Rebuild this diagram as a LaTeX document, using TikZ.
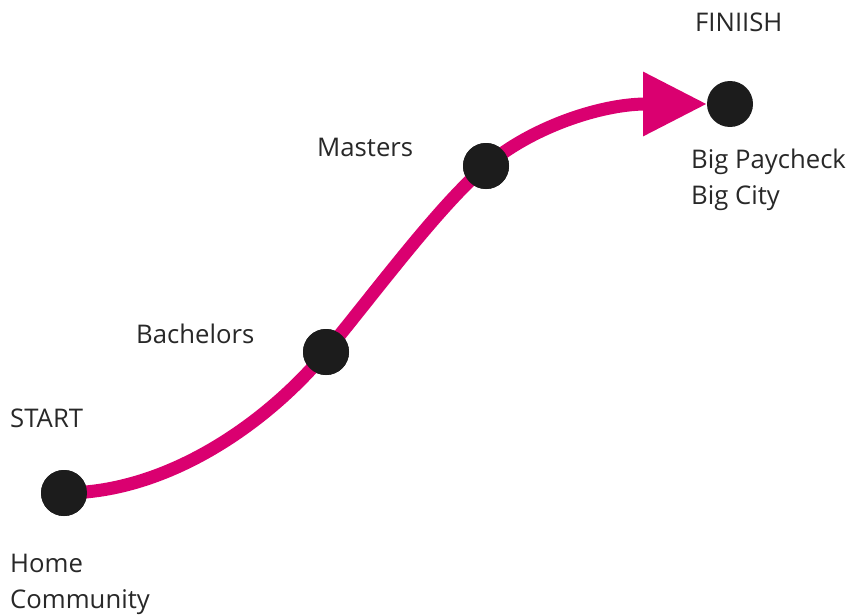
\documentclass[tikz,border=0pt]{standalone}
\usepackage{fontspec}
\setmainfont{Open Sans}
\usetikzlibrary{arrows.meta}
\definecolor{pathpink}{RGB}{218,0,112}
\definecolor{dotblack}{RGB}{28,28,28}
\definecolor{txt}{RGB}{40,40,40}
\tikzset{
  dot/.style={circle,fill=dotblack,minimum size=46pt,inner sep=0pt},
  lbl/.style={anchor=base west,inner sep=0pt,text=txt,font=\fontsize{25.7pt}{36pt}\selectfont},
  road/.style={draw=pathpink,line width=13pt}
}
\begin{document}
\begin{tikzpicture}[x=1pt,y=-1pt]
\useasboundingbox[fill=white] (0,0) rectangle (848,615);
% dots
\node[dot] (s) at (64,493) {};
\node[dot] (b) at (326,352) {};
\node[dot] (m) at (486,166) {};
\node[dot] (f) at (730,104) {};
\coordinate (tip) at (707,104);
% path
\draw[road] (s.center) .. controls (170,493) and (270,420) .. (b.center);
\draw[road] (b.center) .. controls (380,286) and (440,205) .. (m.center);
\draw[road,-{Triangle[length=64pt,width=61pt]}] (m.center) .. controls (530,128) and (600,104) .. (tip);
% redraw dots on top
\node[dot] at (s) {};
\node[dot] at (b) {};
\node[dot] at (m) {};
% labels
\node[lbl] (t1) at (695,32) {FINIISH};
\node[lbl] (t2) at (691,168) {Big Paycheck};
\node[lbl] (t3) at (691,204) {Big City};
\node[lbl] (t4) at (317,157) {Masters};
\node[lbl] (t5) at (136,343) {Bachelors};
\node[lbl] (t6) at (10,427) {START};
\node[lbl] (t7) at (10,572) {Home};
\node[lbl] (t8) at (10,608) {Community};
\end{tikzpicture}
\end{document}
